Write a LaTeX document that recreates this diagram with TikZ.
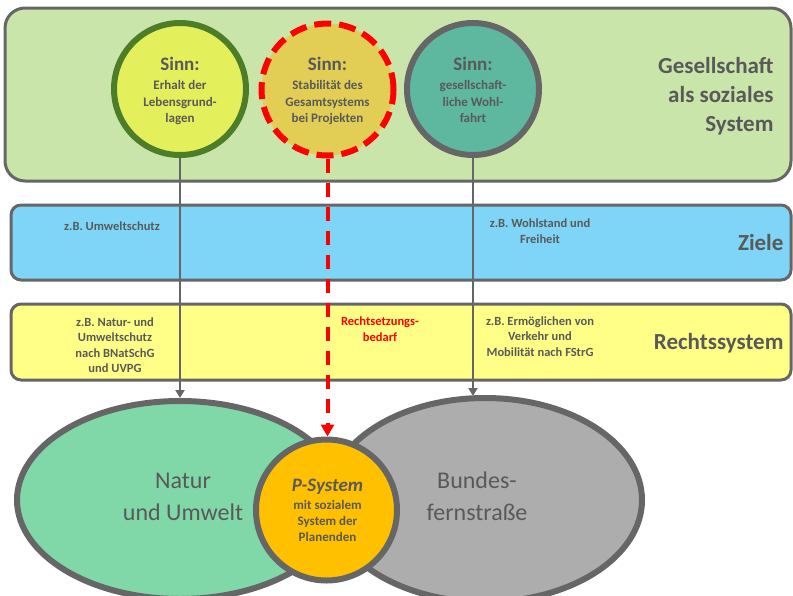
\documentclass[tikz,border=0pt]{standalone}
\usepackage{fontspec}
\setmainfont{Carlito}
\usetikzlibrary{shapes.geometric,arrows.meta}
\definecolor{txt}{HTML}{595959}
\definecolor{edge}{HTML}{666666}
\definecolor{topfill}{HTML}{C9E5A9}
\definecolor{bluefill}{HTML}{7FD5F7}
\definecolor{yelfill}{HTML}{FFFF87}
\definecolor{cOnefill}{HTML}{E4F05B}
\definecolor{cOneedge}{HTML}{4E7D2A}
\definecolor{cTwofill}{HTML}{E2CE55}
\definecolor{cThreefill}{HTML}{5EB8A0}
\definecolor{naturfill}{HTML}{80D8A8}
\definecolor{bundfill}{HTML}{ADADAD}
\definecolor{pfill}{HTML}{FFC000}
\definecolor{redline}{HTML}{FF0000}
\tikzset{
  band/.style={draw=edge, line width=3pt, rounded corners=10pt},
  sinncircle/.style={circle, line width=6pt, minimum size=132pt, inner sep=0pt},
  sinntext/.style={anchor=base, align=center, text=txt, font=\fontsize{13}{16.7}\selectfont\bfseries},
  bandtext/.style={anchor=base, align=center, text=txt, font=\fontsize{12.5}{15.6}\selectfont\bfseries},
  bigtext/.style={anchor=base east, align=right, text=txt, font=\fontsize{23}{29}\selectfont\bfseries},
  ellitext/.style={anchor=base, align=center, text=txt, font=\fontsize{24}{32}\selectfont},
  grayarrow/.style={draw=edge, line width=2.5pt, -{Triangle[length=8pt,width=9pt]}},
  redarrow/.style={draw=redline, line width=4pt, dash pattern=on 14pt off 10pt, -{Triangle[length=12pt,width=13pt]}},
}
\begin{document}
\begin{tikzpicture}[x=1pt,y=-1pt]
\useasboundingbox (0,0) rectangle (793,595);
% background boxes
\path[band, fill=topfill, rounded corners=20pt] (5,8) rectangle (791,181);
\path[band, fill=bluefill] (11,205) rectangle (791,280);
\path[band, fill=yelfill] (11,304) rectangle (791,380);
% sense circles
\node[sinncircle, draw=cOneedge, fill=cOnefill] (c1) at (180,89) {};
\node[sinncircle, draw=redline, fill=cTwofill, dash pattern=on 17pt off 8pt] (c2) at (327.5,89.5) {};
\node[sinncircle, draw=edge, fill=cThreefill] (c3) at (473,89) {};
% systems
\node[ellipse, draw=edge, line width=6pt, fill=naturfill, minimum width=326pt, minimum height=198pt] (natur) at (180,500) {};
\node[ellipse, draw=edge, line width=6pt, fill=bundfill, minimum width=314pt, minimum height=204pt] (bund) at (485,500) {};
% connectors
\draw[grayarrow] (c1.south) -- (c1.south |- natur.north);
\draw[grayarrow] (c3.south) -- ([yshift=-1pt]c3.south |- bund.north);
\node[circle, draw=edge, line width=6pt, fill=pfill, minimum size=141pt, inner sep=0pt] (p) at (326.5,510) {};
\draw[redarrow] (c2.south) -- (c2.south |- p.north);
% circle texts (anchor = baseline of last line)
\node[sinntext] (t1) at (180,122.7) {{\fontsize{19}{19}\selectfont Sinn:}\\[1.8pt]Erhalt der\\Lebensgrund-\\lagen};
\node[sinntext] (t2) at (327.5,122.7) {{\fontsize{19}{19}\selectfont Sinn:}\\[1.8pt]Stabilität des\\Gesamtsystems\\bei Projekten};
\node[sinntext] (t3) at (473,122.7) {{\fontsize{19}{19}\selectfont Sinn:}\\[1.8pt]gesellschaft-\\liche Wohl-\\fahrt};
% big labels
\node[bigtext] (gs) at (777,131) {Gesellschaft\\als soziales\\System};
\node[bigtext] (ziele) at (787,250.5) {Ziele};
\node[bigtext] (recht) at (787,349.5) {Rechtssystem};
% band texts
\node[bandtext] (b1) at (112,230) {z.B. Umweltschutz};
\node[bandtext] (b2) at (540,243) {z.B. Wohlstand und\\Freiheit};
\node[bandtext] (b3) at (115,372.8) {z.B. Natur- und\\Umweltschutz\\nach BNatSchG\\und UVPG};
\node[bandtext, text=redline] (b4) at (380,341) {Rechtsetzungs-\\bedarf};
\node[bandtext] (b5) at (540,356.5) {z.B. Ermöglichen von\\Verkehr und\\Mobilität nach FStrG};
% ellipse texts
\node[ellitext] (nt) at (183,520) {Natur\\und Umwelt};
\node[ellitext] (bt) at (477,520) {Bundes-\\fernstraße};
\node[anchor=base, align=center, text=txt, font=\fontsize{13}{16}\selectfont\bfseries] (pt) at (327.5,541.7)
  {{\fontsize{19}{19}\selectfont\itshape P-System}\\[2.3pt]mit sozialem\\System der\\Planenden};
\end{tikzpicture}
\end{document}
